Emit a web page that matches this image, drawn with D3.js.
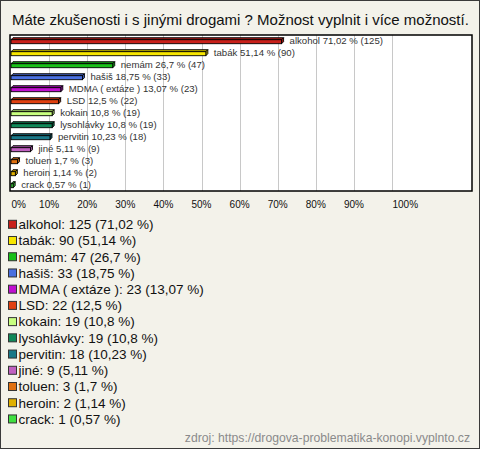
<!DOCTYPE html>
<html><head><meta charset="utf-8">
<script src="https://cdn.jsdelivr.net/npm/d3@7"></script>
<style>html,body{margin:0;padding:0;background:#f3f2ea;}svg{display:block;}</style>
</head><body>
<script>
const title = "Máte zkušenosti i s jinými drogami ? Možnost vyplnit i více možností.";
const categories = ["alkohol","tabák","nemám","hašiš","MDMA ( extáze )","LSD","kokain","lysohlávky","pervitin","jiné","toluen","heroin","crack"];
const counts = [125,90,47,33,23,22,19,19,18,9,3,2,1];
const percents = [71.02,51.14,26.7,18.75,13.07,12.5,10.8,10.8,10.23,5.11,1.7,1.14,0.57];
const colors = ["#c8201a","#f7e600","#18c018","#4a70e0","#c010d0","#e04010","#c8ff80","#108858","#1a7888","#c060c0","#e07010","#e0b000","#40e040"];
const ticks = [0,10,20,30,40,50,60,70,80,90,100];
const source = "zdroj: https://drogova-problematika-konopi.vyplnto.cz";

const W = 480, H = 449;
const FONT = "'Liberation Sans', Arial, sans-serif";
const fmt = v => String(v).replace(".", ",");

const svg = d3.select("body").append("svg").attr("width", W).attr("height", H);
svg.append("rect").attr("x",0.5).attr("y",0.5).attr("width",W-1).attr("height",H-1)
  .attr("fill","#f3f2ea").attr("stroke","#3a3a3a");

svg.append("text").attr("x",12).attr("y",25).attr("font-family",FONT).attr("font-size",15)
  .attr("fill","#111").text(title);

const plot = {left:10, right:472, top:35, bottom:191};
const x = d3.scaleLinear().domain([0,100]).range([11,392]);
const y = d3.scaleBand().domain(categories).range([plot.top, plot.bottom]);

svg.append("rect").attr("x",plot.left).attr("y",plot.top)
  .attr("width",plot.right-plot.left).attr("height",plot.bottom-plot.top).attr("fill","#fff");

svg.append("g").selectAll("line").data(ticks.filter(t=>t>0)).join("line")
  .attr("x1",d=>Math.round(x(d))+0.5).attr("x2",d=>Math.round(x(d))+0.5)
  .attr("y1",plot.top).attr("y2",plot.bottom).attr("stroke","#c8c8c8").attr("stroke-width",1);

const dx = 2, dy = 2, bh = 4;
const rows = svg.append("g").selectAll("g").data(categories).join("g");
rows.each(function(c, i){
  const g = d3.select(this);
  const x0 = x(0), x1 = x(percents[i]);
  const yt = y(c) + 4.7, yb = yt + bh;
  const col = colors[i];
  const dark = d3.color(col).darker(0.7);
  g.append("path").attr("d", `M${x0},${yt}L${x0+dx},${yt-dy}L${x1+dx},${yt-dy}L${x1},${yt}Z`)
    .attr("fill", dark).attr("stroke","#000").attr("stroke-width",0.9).attr("stroke-linejoin","round");
  g.append("path").attr("d", `M${x1},${yt}L${x1+dx},${yt-dy}L${x1+dx},${yb-dy}L${x1},${yb}Z`)
    .attr("fill", dark).attr("stroke","#000").attr("stroke-width",0.9).attr("stroke-linejoin","round");
  g.append("rect").attr("x",x0).attr("y",yt).attr("width",Math.max(0.5,x1-x0)).attr("height",bh)
    .attr("fill",col).attr("stroke","#000").attr("stroke-width",0.9);
  g.append("text").attr("x", x1 + dx + 6).attr("y", yt + 4)
    .attr("font-family",FONT).attr("font-size",9.6).attr("fill","#333")
    .text(`${c} ${fmt(percents[i])} % (${counts[i]})`);
});

svg.append("rect").attr("x",plot.left).attr("y",plot.top)
  .attr("width",plot.right-plot.left).attr("height",plot.bottom-plot.top)
  .attr("fill","none").attr("stroke","#000").attr("stroke-width",1.5);

svg.append("g").selectAll("text").data(ticks).join("text")
  .attr("x", (d,i)=> (i===0||i===ticks.length-1) ? x(d)+0.5 : x(d))
  .attr("text-anchor",(d,i)=> (i===0||i===ticks.length-1) ? "start" : "middle")
  .attr("y",208).attr("font-family",FONT).attr("font-size",10).attr("fill","#111")
  .text(d=>d+"%");

const leg = svg.append("g").selectAll("g").data(categories).join("g")
  .attr("transform",(d,i)=>`translate(0,${224.3 + i*16.22})`);
leg.append("rect").attr("x",8.5).attr("y",-4).attr("width",8).attr("height",8)
  .attr("fill",(d,i)=>colors[i]).attr("stroke","#333").attr("stroke-width",1);
leg.append("text").attr("x",18.5).attr("y",4.8).attr("font-family",FONT).attr("font-size",13.5)
  .attr("fill","#111").text((d,i)=>`${d}: ${counts[i]} (${fmt(percents[i])} %)`);

svg.append("text").attr("x",470).attr("y",441.5).attr("text-anchor","end")
  .attr("font-family",FONT).attr("font-size",12.2).attr("fill","#8a8a8a").text(source);
</script>
</body></html>
